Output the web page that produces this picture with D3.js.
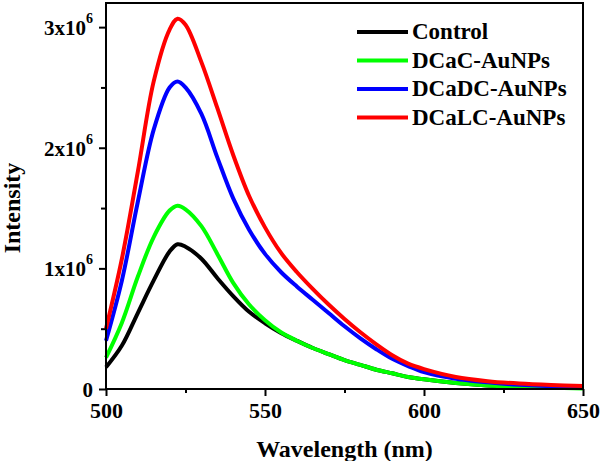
<!DOCTYPE html>
<html>
<head>
<meta charset="utf-8">
<script src="https://cdn.jsdelivr.net/npm/d3@7"></script>
<style>
  html, body { margin: 0; padding: 0; background: #fff; }
  svg { display: block; }
  text { font-family: "Liberation Serif", "Times New Roman", serif; font-weight: bold; fill: #000; }
</style>
</head>
<body>
<svg id="chart" width="600" height="461"></svg>
<script>
// ---- Data ----
const wavelengths = [500, 505, 510, 515, 520, 522.5, 525, 530, 535, 540, 545, 550, 555, 560, 565, 570, 575, 580, 585, 590, 595, 600, 610, 620, 630, 640, 650];
const control  = [0.18, 0.36, 0.63, 0.90, 1.14, 1.20, 1.18, 1.08, 0.92, 0.77, 0.64, 0.545, 0.465, 0.40, 0.34, 0.29, 0.24, 0.20, 0.16, 0.13, 0.10, 0.08, 0.05, 0.03, 0.02, 0.012, 0.008];
const dcac     = [0.26, 0.55, 0.93, 1.26, 1.48, 1.52, 1.49, 1.35, 1.12, 0.88, 0.70, 0.57, 0.47, 0.40, 0.34, 0.29, 0.24, 0.20, 0.16, 0.13, 0.10, 0.08, 0.05, 0.03, 0.018, 0.010, 0.005];
const dcadc    = [0.40, 0.90, 1.55, 2.15, 2.50, 2.55, 2.50, 2.28, 1.92, 1.58, 1.32, 1.12, 0.97, 0.85, 0.74, 0.63, 0.52, 0.42, 0.33, 0.25, 0.19, 0.14, 0.085, 0.055, 0.035, 0.022, 0.015];
const dcalc    = [0.50, 1.08, 1.80, 2.55, 2.98, 3.07, 3.02, 2.71, 2.33, 1.94, 1.60, 1.34, 1.13, 0.97, 0.83, 0.70, 0.58, 0.47, 0.37, 0.28, 0.21, 0.165, 0.10, 0.065, 0.045, 0.033, 0.025];
const seriesNames  = ["Control", "DCaC-AuNPs", "DCaDC-AuNPs", "DCaLC-AuNPs"];
const seriesValues = [control, dcac, dcadc, dcalc]; // in units of 1e6
const seriesColors = ["#000000", "#00ff00", "#0000ff", "#ff0000"];
const xTicks = [500, 550, 600, 650];
const xMinorTicks = [525, 575, 625];
const yTicks = [0, 1e6, 2e6, 3e6];
const yTickMantissa = ["0", "1", "2", "3"];
const yMinorTicks = [0.5e6, 1.5e6, 2.5e6];

// ---- Layout ----
const svg = d3.select("#chart");
const L = 106, R = 583, T = 3, B = 389;

const x = d3.scaleLinear().domain([500, 650]).range([L, R]);
const y = d3.scaleLinear().domain([0, 3.2e6]).range([B, T]);

// Lines
const line = d3.line()
  .x(d => x(d[0]))
  .y(d => y(d[1] * 1e6))
  .curve(d3.curveCatmullRom.alpha(0.5));

const gLines = svg.append("g");
seriesValues.forEach((vals, i) => {
  const pts = wavelengths.map((w, j) => [w, vals[j]]);
  gLines.append("path")
    .attr("d", line(pts))
    .attr("fill", "none")
    .attr("stroke", seriesColors[i])
    .attr("stroke-width", 4)
    .attr("stroke-linejoin", "round");
});

// Frame
svg.append("rect")
  .attr("x", L).attr("y", T)
  .attr("width", R - L).attr("height", B - T)
  .attr("fill", "none").attr("stroke", "#000").attr("stroke-width", 2);

// X axis
const xAxis = d3.axisBottom(x).tickValues(xTicks).tickSize(7).tickSizeOuter(0).tickPadding(6).tickFormat(d3.format("d"));
const gx = svg.append("g").attr("transform", `translate(0,${B})`).call(xAxis);
gx.select(".domain").remove();
gx.selectAll(".tick line").attr("stroke", "#000").attr("stroke-width", 2);
gx.selectAll(".tick text").attr("font-size", 22).attr("fill", "#000");
const xMinor = d3.axisBottom(x).tickValues(xMinorTicks).tickSize(4).tickSizeOuter(0).tickFormat("");
const gxm = svg.append("g").attr("transform", `translate(0,${B})`).call(xMinor);
gxm.select(".domain").remove();
gxm.selectAll(".tick line").attr("stroke", "#000").attr("stroke-width", 2);

// Y axis
const yAxis = d3.axisLeft(y).tickValues(yTicks).tickSize(7).tickSizeOuter(0).tickPadding(6).tickFormat("");
const gy = svg.append("g").attr("transform", `translate(${L},0)`).call(yAxis);
gy.select(".domain").remove();
gy.selectAll(".tick line").attr("stroke", "#000").attr("stroke-width", 2);
gy.selectAll(".tick").each(function(d, i) {
  const t = d3.select(this).append("text")
    .attr("x", -13)
    .attr("dy", "0.35em")
    .attr("text-anchor", "end")
    .attr("font-size", 21);
  if (d === 0) {
    t.text(yTickMantissa[i]);
  } else {
    t.append("tspan").text(yTickMantissa[i] + "x10");
    t.append("tspan").attr("font-size", 14).attr("dy", "-0.85em").text("6");
  }
});
const yMinor = d3.axisLeft(y).tickValues(yMinorTicks).tickSize(5).tickSizeOuter(0).tickFormat("");
const gym = svg.append("g").attr("transform", `translate(${L},0)`).call(yMinor);
gym.select(".domain").remove();
gym.selectAll(".tick line").attr("stroke", "#000").attr("stroke-width", 2);

// Axis titles
svg.append("text")
  .attr("x", (L + R) / 2).attr("y", 457)
  .attr("text-anchor", "middle")
  .attr("font-size", 24)
  .text("Wavelength (nm)");

svg.append("text")
  .attr("transform", "translate(20,208) rotate(-90)")
  .attr("text-anchor", "middle")
  .attr("font-size", 24)
  .text("Intensity");

// Legend
const legend = svg.append("g");
seriesNames.forEach((name, i) => {
  const ly = 32 + i * 28.5;
  legend.append("line")
    .attr("x1", 357).attr("x2", 408)
    .attr("y1", ly).attr("y2", ly)
    .attr("stroke", seriesColors[i]).attr("stroke-width", 4);
  legend.append("text")
    .attr("x", 412).attr("y", ly + 7)
    .attr("font-size", 23)
    .text(name);
});
</script>
</body>
</html>
